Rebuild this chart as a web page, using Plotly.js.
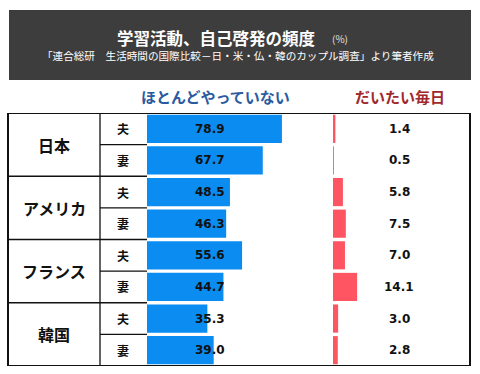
<!DOCTYPE html>
<html>
<head>
<meta charset="utf-8">
<script src="https://cdn.plot.ly/plotly-3.0.1.min.js"></script>
<style>html,body{margin:0;padding:0;background:#fff;}</style>
</head>
<body>
<div id="chart" style="width:480px;height:374px;"></div>
<script>
const countries = ["日本", "アメリカ", "フランス", "韓国"];
const persons = ["夫", "妻"];
const rowKeys = ["日本夫", "日本妻", "アメリカ夫", "アメリカ妻", "フランス夫", "フランス妻", "韓国夫", "韓国妻"];
const hardlyEver = [78.9, 67.7, 48.5, 46.3, 55.6, 44.7, 35.3, 39.0];
const almostDaily = [1.4, 0.5, 5.8, 7.5, 7.0, 14.1, 3.0, 2.8];
const titleText = "学習活動、自己啓発の頻度";
const unitText = "(%)";
const subtitleText = "「連合総研　生活時間の国際比較－日・米・仏・韓のカップル調査」より筆者作成";
const header1 = "ほとんどやっていない";
const header2 = "だいたい毎日";

const W = 480, H = 374;
const px = v => v / W;
const py = v => 1 - v / H;
const JP = "Noto Sans CJK JP, sans-serif";
const NUM = "DejaVu Sans, Verdana, sans-serif";

const traces = [
  {type: "bar", orientation: "h", x: hardlyEver, y: rowKeys, xaxis: "x", yaxis: "y",
   marker: {color: "#0a8cf0"}, hoverinfo: "skip"},
  {type: "bar", orientation: "h", x: almostDaily, y: rowKeys, xaxis: "x2", yaxis: "y",
   marker: {color: "#ff5461"}, hoverinfo: "skip"}
];

const annotations = [];
// title
annotations.push({xref: "paper", yref: "paper", x: px(216), y: py(38), xanchor: "center", yanchor: "middle",
  text: "<b>" + titleText + "</b>",
  showarrow: false, font: {family: JP, size: 16.5, color: "#ffffff"}});
annotations.push({xref: "paper", yref: "paper", x: px(340), y: py(39), xanchor: "center", yanchor: "middle",
  text: unitText, showarrow: false, font: {family: JP, size: 10, color: "#e0e0e0"}});
annotations.push({xref: "paper", yref: "paper", x: px(238), y: py(56), xanchor: "center", yanchor: "middle",
  text: subtitleText, showarrow: false, font: {family: JP, size: 10.6, color: "#ffffff"}});
annotations.push({xref: "paper", yref: "paper", x: px(215), y: py(97), xanchor: "center", yanchor: "middle",
  text: "<b>" + header1 + "</b>", showarrow: false, font: {family: JP, size: 15, color: "#2a5aa0"}});
annotations.push({xref: "paper", yref: "paper", x: px(400), y: py(97), xanchor: "center", yanchor: "middle",
  text: "<b>" + header2 + "</b>", showarrow: false, font: {family: JP, size: 15, color: "#a0282d"}});

countries.forEach((c, i) => {
  annotations.push({xref: "paper", yref: "y", x: px(54), y: 2 * i + 0.5, xanchor: "center", yanchor: "middle",
    text: "<b>" + c + "</b>", showarrow: false, font: {family: JP, size: 16, color: "#111111"}});
  persons.forEach((p, j) => {
    annotations.push({xref: "paper", yref: "y", x: px(123), y: rowKeys[2 * i + j], xanchor: "center", yanchor: "middle",
      text: "<b>" + p + "</b>", showarrow: false, font: {family: JP, size: 12, color: "#111111"}});
  });
});
rowKeys.forEach((k, i) => {
  annotations.push({xref: "x", yref: "y", x: 47, y: k, xanchor: "right", yanchor: "middle",
    text: "<b>" + hardlyEver[i].toFixed(1) + "</b>", showarrow: false, font: {family: NUM, size: 12, color: "#111111"}});
  annotations.push({xref: "x2", yref: "y", x: 38.6, y: k, xanchor: "center", yanchor: "middle",
    text: "<b>" + almostDaily[i].toFixed(1) + "</b>", showarrow: false, font: {family: NUM, size: 12, color: "#111111"}});
});

const shapes = [];
shapes.push({type: "rect", xref: "paper", yref: "paper", x0: px(9), x1: px(471), y0: py(80), y1: py(10),
  fillcolor: "#3d3d3d", line: {width: 0}, layer: "below"});
const L = {color: "#111111", width: 2};
const Li = {color: "#111111", width: 1.3};
shapes.push({type: "line", xref: "paper", yref: "y", x0: px(8), x1: px(470), y0: -0.5, y1: -0.5, line: L});
shapes.push({type: "line", xref: "paper", yref: "y", x0: px(8), x1: px(470), y0: 7.5, y1: 7.5, line: L});
shapes.push({type: "line", xref: "paper", yref: "y", x0: px(8), x1: px(8), y0: -0.5, y1: 7.5, line: L});
shapes.push({type: "line", xref: "paper", yref: "y", x0: px(470), x1: px(470), y0: -0.5, y1: 7.5, line: L});
shapes.push({type: "line", xref: "paper", yref: "y", x0: px(100), x1: px(100), y0: -0.5, y1: 7.5, line: Li});
[1.5, 3.5, 5.5].forEach(v => shapes.push({type: "line", xref: "paper", yref: "y", x0: px(8), x1: px(147), y0: v, y1: v, line: Li}));
[0.5, 2.5, 4.5, 6.5].forEach(v => shapes.push({type: "line", xref: "paper", yref: "y", x0: px(100), x1: px(147), y0: v, y1: v, line: Li}));

const layout = {
  width: W, height: H,
  margin: {l: 0, r: 0, t: 0, b: 0},
  paper_bgcolor: "#ffffff", plot_bgcolor: "rgba(0,0,0,0)",
  showlegend: false,
  bargap: 0.11,
  xaxis: {domain: [px(147), px(330)], range: [0, 183 / 1.71], visible: false, fixedrange: true},
  xaxis2: {domain: [px(333), px(469)], range: [0, 136 / 1.71], visible: false, fixedrange: true, anchor: "y"},
  yaxis: {domain: [8 / H, 261 / H], type: "category", range: [7.5, -0.5], visible: false, fixedrange: true},
  annotations: annotations,
  shapes: shapes
};

Plotly.newPlot("chart", traces, layout, {displayModeBar: false, staticPlot: true});
</script>
</body>
</html>
